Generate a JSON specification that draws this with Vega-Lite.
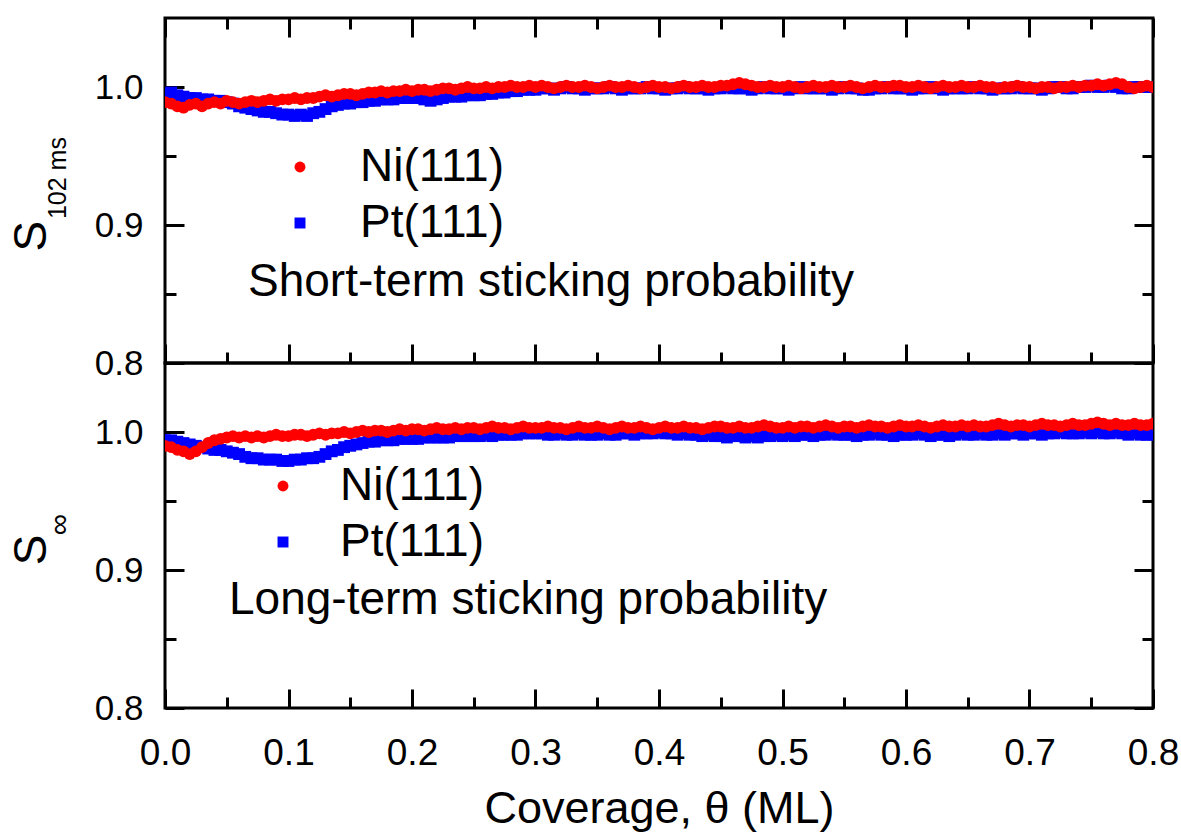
{
  "$schema": "https://vega.github.io/schema/vega-lite/v6.json",
  "padding": {"left": 7, "top": 15, "right": 5, "bottom": 5},
  "background": "white",
  "spacing": 0,
  "bounds": "flush",
  "config": {
    "font": "Liberation Sans",
    "view": {"stroke": "#000000", "strokeWidth": 3},
    "axis": {"grid": false, "domain": false, "labelFlush": false, "labelOverlap": false, "tickColor": "#000000", "tickWidth": 3, "labelColor": "#000000", "titleColor": "#000000", "labelFont": "Liberation Sans", "titleFont": "Liberation Sans"}
  },
  "datasets": {
    "short": [
      {"s":"Pt(111)","x":0,"y":0.995},{"s":"Pt(111)","x":0.005,"y":0.996},{"s":"Pt(111)","x":0.01,"y":0.994},{"s":"Pt(111)","x":0.015,"y":0.993},{"s":"Pt(111)","x":0.02,"y":0.992},{"s":"Pt(111)","x":0.025,"y":0.992},{"s":"Pt(111)","x":0.03,"y":0.991},{"s":"Pt(111)","x":0.035,"y":0.991},{"s":"Pt(111)","x":0.04,"y":0.99},{"s":"Pt(111)","x":0.045,"y":0.99},
      {"s":"Pt(111)","x":0.05,"y":0.989},{"s":"Pt(111)","x":0.055,"y":0.988},{"s":"Pt(111)","x":0.06,"y":0.986},{"s":"Pt(111)","x":0.065,"y":0.985},{"s":"Pt(111)","x":0.07,"y":0.984},{"s":"Pt(111)","x":0.075,"y":0.983},{"s":"Pt(111)","x":0.08,"y":0.982},{"s":"Pt(111)","x":0.085,"y":0.982},{"s":"Pt(111)","x":0.09,"y":0.981},{"s":"Pt(111)","x":0.095,"y":0.98},
      {"s":"Pt(111)","x":0.1,"y":0.98},{"s":"Pt(111)","x":0.105,"y":0.979},{"s":"Pt(111)","x":0.11,"y":0.98},{"s":"Pt(111)","x":0.115,"y":0.979},{"s":"Pt(111)","x":0.12,"y":0.981},{"s":"Pt(111)","x":0.125,"y":0.982},{"s":"Pt(111)","x":0.13,"y":0.984},{"s":"Pt(111)","x":0.135,"y":0.986},{"s":"Pt(111)","x":0.14,"y":0.987},{"s":"Pt(111)","x":0.145,"y":0.988},
      {"s":"Pt(111)","x":0.15,"y":0.988},{"s":"Pt(111)","x":0.155,"y":0.989},{"s":"Pt(111)","x":0.16,"y":0.989},{"s":"Pt(111)","x":0.165,"y":0.99},{"s":"Pt(111)","x":0.17,"y":0.99},{"s":"Pt(111)","x":0.175,"y":0.991},{"s":"Pt(111)","x":0.18,"y":0.991},{"s":"Pt(111)","x":0.185,"y":0.991},{"s":"Pt(111)","x":0.19,"y":0.992},{"s":"Pt(111)","x":0.195,"y":0.992},
      {"s":"Pt(111)","x":0.2,"y":0.992},{"s":"Pt(111)","x":0.205,"y":0.992},{"s":"Pt(111)","x":0.21,"y":0.991},{"s":"Pt(111)","x":0.215,"y":0.99},{"s":"Pt(111)","x":0.22,"y":0.991},{"s":"Pt(111)","x":0.225,"y":0.992},{"s":"Pt(111)","x":0.23,"y":0.993},{"s":"Pt(111)","x":0.235,"y":0.993},{"s":"Pt(111)","x":0.24,"y":0.993},{"s":"Pt(111)","x":0.245,"y":0.994},
      {"s":"Pt(111)","x":0.25,"y":0.994},{"s":"Pt(111)","x":0.255,"y":0.994},{"s":"Pt(111)","x":0.26,"y":0.995},{"s":"Pt(111)","x":0.265,"y":0.995},{"s":"Pt(111)","x":0.27,"y":0.996},{"s":"Pt(111)","x":0.275,"y":0.996},{"s":"Pt(111)","x":0.28,"y":0.997},{"s":"Pt(111)","x":0.285,"y":0.997},{"s":"Pt(111)","x":0.29,"y":0.998},{"s":"Pt(111)","x":0.295,"y":0.998},
      {"s":"Pt(111)","x":0.3,"y":0.998},{"s":"Pt(111)","x":0.305,"y":0.999},{"s":"Pt(111)","x":0.31,"y":0.999},{"s":"Pt(111)","x":0.315,"y":0.998},{"s":"Pt(111)","x":0.32,"y":0.999},{"s":"Pt(111)","x":0.325,"y":1.0},{"s":"Pt(111)","x":0.33,"y":0.999},{"s":"Pt(111)","x":0.335,"y":0.999},{"s":"Pt(111)","x":0.34,"y":0.998},{"s":"Pt(111)","x":0.345,"y":0.999},
      {"s":"Pt(111)","x":0.35,"y":0.999},{"s":"Pt(111)","x":0.355,"y":0.999},{"s":"Pt(111)","x":0.36,"y":1.0},{"s":"Pt(111)","x":0.365,"y":0.999},{"s":"Pt(111)","x":0.37,"y":0.998},{"s":"Pt(111)","x":0.375,"y":0.999},{"s":"Pt(111)","x":0.38,"y":0.999},{"s":"Pt(111)","x":0.385,"y":0.999},{"s":"Pt(111)","x":0.39,"y":1.0},{"s":"Pt(111)","x":0.395,"y":0.999},
      {"s":"Pt(111)","x":0.4,"y":0.999},{"s":"Pt(111)","x":0.405,"y":0.998},{"s":"Pt(111)","x":0.41,"y":0.999},{"s":"Pt(111)","x":0.415,"y":0.999},{"s":"Pt(111)","x":0.42,"y":1.0},{"s":"Pt(111)","x":0.425,"y":0.999},{"s":"Pt(111)","x":0.43,"y":0.999},{"s":"Pt(111)","x":0.435,"y":0.999},{"s":"Pt(111)","x":0.44,"y":0.998},{"s":"Pt(111)","x":0.445,"y":0.999},
      {"s":"Pt(111)","x":0.45,"y":0.999},{"s":"Pt(111)","x":0.455,"y":1.0},{"s":"Pt(111)","x":0.46,"y":0.999},{"s":"Pt(111)","x":0.465,"y":0.999},{"s":"Pt(111)","x":0.47,"y":0.999},{"s":"Pt(111)","x":0.475,"y":0.998},{"s":"Pt(111)","x":0.48,"y":0.999},{"s":"Pt(111)","x":0.485,"y":1.0},{"s":"Pt(111)","x":0.49,"y":0.999},{"s":"Pt(111)","x":0.495,"y":0.999},
      {"s":"Pt(111)","x":0.5,"y":0.999},{"s":"Pt(111)","x":0.505,"y":0.998},{"s":"Pt(111)","x":0.51,"y":0.999},{"s":"Pt(111)","x":0.515,"y":1.0},{"s":"Pt(111)","x":0.52,"y":0.999},{"s":"Pt(111)","x":0.525,"y":0.999},{"s":"Pt(111)","x":0.53,"y":0.999},{"s":"Pt(111)","x":0.535,"y":0.999},{"s":"Pt(111)","x":0.54,"y":0.998},{"s":"Pt(111)","x":0.545,"y":0.999},
      {"s":"Pt(111)","x":0.55,"y":1.0},{"s":"Pt(111)","x":0.555,"y":0.999},{"s":"Pt(111)","x":0.56,"y":0.999},{"s":"Pt(111)","x":0.565,"y":0.998},{"s":"Pt(111)","x":0.57,"y":0.998},{"s":"Pt(111)","x":0.575,"y":0.999},{"s":"Pt(111)","x":0.58,"y":0.999},{"s":"Pt(111)","x":0.585,"y":1.0},{"s":"Pt(111)","x":0.59,"y":0.999},{"s":"Pt(111)","x":0.595,"y":0.999},
      {"s":"Pt(111)","x":0.6,"y":0.999},{"s":"Pt(111)","x":0.605,"y":0.998},{"s":"Pt(111)","x":0.61,"y":0.999},{"s":"Pt(111)","x":0.615,"y":0.999},{"s":"Pt(111)","x":0.62,"y":1.0},{"s":"Pt(111)","x":0.625,"y":0.999},{"s":"Pt(111)","x":0.63,"y":0.998},{"s":"Pt(111)","x":0.635,"y":0.999},{"s":"Pt(111)","x":0.64,"y":0.999},{"s":"Pt(111)","x":0.645,"y":0.999},
      {"s":"Pt(111)","x":0.65,"y":0.999},{"s":"Pt(111)","x":0.655,"y":1.0},{"s":"Pt(111)","x":0.66,"y":0.999},{"s":"Pt(111)","x":0.665,"y":0.999},{"s":"Pt(111)","x":0.67,"y":0.998},{"s":"Pt(111)","x":0.675,"y":0.999},{"s":"Pt(111)","x":0.68,"y":0.999},{"s":"Pt(111)","x":0.685,"y":0.999},{"s":"Pt(111)","x":0.69,"y":1.0},{"s":"Pt(111)","x":0.695,"y":0.999},
      {"s":"Pt(111)","x":0.7,"y":0.999},{"s":"Pt(111)","x":0.705,"y":0.999},{"s":"Pt(111)","x":0.71,"y":0.998},{"s":"Pt(111)","x":0.715,"y":0.999},{"s":"Pt(111)","x":0.72,"y":1.0},{"s":"Pt(111)","x":0.725,"y":1.0},{"s":"Pt(111)","x":0.73,"y":0.999},{"s":"Pt(111)","x":0.735,"y":0.999},{"s":"Pt(111)","x":0.74,"y":1.0},{"s":"Pt(111)","x":0.745,"y":1.0},
      {"s":"Pt(111)","x":0.75,"y":1.001},{"s":"Pt(111)","x":0.755,"y":1.0},{"s":"Pt(111)","x":0.76,"y":1.0},{"s":"Pt(111)","x":0.765,"y":1.001},{"s":"Pt(111)","x":0.77,"y":1.0},{"s":"Pt(111)","x":0.775,"y":0.999},{"s":"Pt(111)","x":0.78,"y":0.999},{"s":"Pt(111)","x":0.785,"y":1.0},{"s":"Pt(111)","x":0.79,"y":1.0},{"s":"Pt(111)","x":0.795,"y":1.0},
      {"s":"Pt(111)","x":0.8,"y":1.0},
      {"s":"Ni(111)","x":0,"y":0.989},{"s":"Ni(111)","x":0.005,"y":0.988},{"s":"Ni(111)","x":0.01,"y":0.986},{"s":"Ni(111)","x":0.015,"y":0.985},{"s":"Ni(111)","x":0.02,"y":0.987},{"s":"Ni(111)","x":0.025,"y":0.988},{"s":"Ni(111)","x":0.03,"y":0.986},{"s":"Ni(111)","x":0.035,"y":0.988},{"s":"Ni(111)","x":0.04,"y":0.989},{"s":"Ni(111)","x":0.045,"y":0.988},
      {"s":"Ni(111)","x":0.05,"y":0.99},{"s":"Ni(111)","x":0.055,"y":0.989},{"s":"Ni(111)","x":0.06,"y":0.988},{"s":"Ni(111)","x":0.065,"y":0.989},{"s":"Ni(111)","x":0.07,"y":0.99},{"s":"Ni(111)","x":0.075,"y":0.989},{"s":"Ni(111)","x":0.08,"y":0.99},{"s":"Ni(111)","x":0.085,"y":0.991},{"s":"Ni(111)","x":0.09,"y":0.99},{"s":"Ni(111)","x":0.095,"y":0.991},
      {"s":"Ni(111)","x":0.1,"y":0.991},{"s":"Ni(111)","x":0.105,"y":0.992},{"s":"Ni(111)","x":0.11,"y":0.991},{"s":"Ni(111)","x":0.115,"y":0.992},{"s":"Ni(111)","x":0.12,"y":0.992},{"s":"Ni(111)","x":0.125,"y":0.993},{"s":"Ni(111)","x":0.13,"y":0.994},{"s":"Ni(111)","x":0.135,"y":0.993},{"s":"Ni(111)","x":0.14,"y":0.994},{"s":"Ni(111)","x":0.145,"y":0.995},
      {"s":"Ni(111)","x":0.15,"y":0.995},{"s":"Ni(111)","x":0.155,"y":0.994},{"s":"Ni(111)","x":0.16,"y":0.995},{"s":"Ni(111)","x":0.165,"y":0.996},{"s":"Ni(111)","x":0.17,"y":0.996},{"s":"Ni(111)","x":0.175,"y":0.997},{"s":"Ni(111)","x":0.18,"y":0.996},{"s":"Ni(111)","x":0.185,"y":0.997},{"s":"Ni(111)","x":0.19,"y":0.997},{"s":"Ni(111)","x":0.195,"y":0.998},
      {"s":"Ni(111)","x":0.2,"y":0.997},{"s":"Ni(111)","x":0.205,"y":0.998},{"s":"Ni(111)","x":0.21,"y":0.998},{"s":"Ni(111)","x":0.215,"y":0.997},{"s":"Ni(111)","x":0.22,"y":0.998},{"s":"Ni(111)","x":0.225,"y":0.999},{"s":"Ni(111)","x":0.23,"y":0.999},{"s":"Ni(111)","x":0.235,"y":0.998},{"s":"Ni(111)","x":0.24,"y":0.999},{"s":"Ni(111)","x":0.245,"y":1.0},
      {"s":"Ni(111)","x":0.25,"y":0.999},{"s":"Ni(111)","x":0.255,"y":0.999},{"s":"Ni(111)","x":0.26,"y":1.0},{"s":"Ni(111)","x":0.265,"y":0.999},{"s":"Ni(111)","x":0.27,"y":1.0},{"s":"Ni(111)","x":0.275,"y":1.0},{"s":"Ni(111)","x":0.28,"y":1.001},{"s":"Ni(111)","x":0.285,"y":1.0},{"s":"Ni(111)","x":0.29,"y":1.0},{"s":"Ni(111)","x":0.295,"y":1.001},
      {"s":"Ni(111)","x":0.3,"y":1.0},{"s":"Ni(111)","x":0.305,"y":1.001},{"s":"Ni(111)","x":0.31,"y":1.0},{"s":"Ni(111)","x":0.315,"y":0.999},{"s":"Ni(111)","x":0.32,"y":1.0},{"s":"Ni(111)","x":0.325,"y":1.001},{"s":"Ni(111)","x":0.33,"y":1.0},{"s":"Ni(111)","x":0.335,"y":1.0},{"s":"Ni(111)","x":0.34,"y":1.001},{"s":"Ni(111)","x":0.345,"y":1.0},
      {"s":"Ni(111)","x":0.35,"y":0.999},{"s":"Ni(111)","x":0.355,"y":1.0},{"s":"Ni(111)","x":0.36,"y":1.001},{"s":"Ni(111)","x":0.365,"y":1.0},{"s":"Ni(111)","x":0.37,"y":1.0},{"s":"Ni(111)","x":0.375,"y":1.001},{"s":"Ni(111)","x":0.38,"y":1.0},{"s":"Ni(111)","x":0.385,"y":0.999},{"s":"Ni(111)","x":0.39,"y":1.0},{"s":"Ni(111)","x":0.395,"y":1.001},
      {"s":"Ni(111)","x":0.4,"y":1.0},{"s":"Ni(111)","x":0.405,"y":1.0},{"s":"Ni(111)","x":0.41,"y":0.999},{"s":"Ni(111)","x":0.415,"y":1.0},{"s":"Ni(111)","x":0.42,"y":1.001},{"s":"Ni(111)","x":0.425,"y":1.0},{"s":"Ni(111)","x":0.43,"y":1.0},{"s":"Ni(111)","x":0.435,"y":1.001},{"s":"Ni(111)","x":0.44,"y":1.0},{"s":"Ni(111)","x":0.445,"y":1.0},
      {"s":"Ni(111)","x":0.45,"y":1.001},{"s":"Ni(111)","x":0.455,"y":1.001},{"s":"Ni(111)","x":0.46,"y":1.002},{"s":"Ni(111)","x":0.465,"y":1.003},{"s":"Ni(111)","x":0.47,"y":1.002},{"s":"Ni(111)","x":0.475,"y":1.001},{"s":"Ni(111)","x":0.48,"y":1.0},{"s":"Ni(111)","x":0.485,"y":1.0},{"s":"Ni(111)","x":0.49,"y":1.001},{"s":"Ni(111)","x":0.495,"y":1.0},
      {"s":"Ni(111)","x":0.5,"y":1.0},{"s":"Ni(111)","x":0.505,"y":1.001},{"s":"Ni(111)","x":0.51,"y":1.0},{"s":"Ni(111)","x":0.515,"y":0.999},{"s":"Ni(111)","x":0.52,"y":1.0},{"s":"Ni(111)","x":0.525,"y":1.001},{"s":"Ni(111)","x":0.53,"y":1.0},{"s":"Ni(111)","x":0.535,"y":1.0},{"s":"Ni(111)","x":0.54,"y":1.001},{"s":"Ni(111)","x":0.545,"y":1.0},
      {"s":"Ni(111)","x":0.55,"y":1.0},{"s":"Ni(111)","x":0.555,"y":1.001},{"s":"Ni(111)","x":0.56,"y":1.0},{"s":"Ni(111)","x":0.565,"y":0.999},{"s":"Ni(111)","x":0.57,"y":1.0},{"s":"Ni(111)","x":0.575,"y":1.001},{"s":"Ni(111)","x":0.58,"y":1.0},{"s":"Ni(111)","x":0.585,"y":1.0},{"s":"Ni(111)","x":0.59,"y":1.001},{"s":"Ni(111)","x":0.595,"y":1.001},
      {"s":"Ni(111)","x":0.6,"y":1.0},{"s":"Ni(111)","x":0.605,"y":1.0},{"s":"Ni(111)","x":0.61,"y":1.001},{"s":"Ni(111)","x":0.615,"y":1.0},{"s":"Ni(111)","x":0.62,"y":0.999},{"s":"Ni(111)","x":0.625,"y":1.0},{"s":"Ni(111)","x":0.63,"y":1.001},{"s":"Ni(111)","x":0.635,"y":1.0},{"s":"Ni(111)","x":0.64,"y":1.0},{"s":"Ni(111)","x":0.645,"y":1.001},
      {"s":"Ni(111)","x":0.65,"y":1.0},{"s":"Ni(111)","x":0.655,"y":1.0},{"s":"Ni(111)","x":0.66,"y":1.001},{"s":"Ni(111)","x":0.665,"y":1.0},{"s":"Ni(111)","x":0.67,"y":1.0},{"s":"Ni(111)","x":0.675,"y":0.999},{"s":"Ni(111)","x":0.68,"y":1.0},{"s":"Ni(111)","x":0.685,"y":1.0},{"s":"Ni(111)","x":0.69,"y":1.001},{"s":"Ni(111)","x":0.695,"y":1.0},
      {"s":"Ni(111)","x":0.7,"y":1.0},{"s":"Ni(111)","x":0.705,"y":0.999},{"s":"Ni(111)","x":0.71,"y":1.0},{"s":"Ni(111)","x":0.715,"y":1.0},{"s":"Ni(111)","x":0.72,"y":0.999},{"s":"Ni(111)","x":0.725,"y":1.0},{"s":"Ni(111)","x":0.73,"y":1.0},{"s":"Ni(111)","x":0.735,"y":1.001},{"s":"Ni(111)","x":0.74,"y":1.0},{"s":"Ni(111)","x":0.745,"y":1.001},
      {"s":"Ni(111)","x":0.75,"y":1.001},{"s":"Ni(111)","x":0.755,"y":1.002},{"s":"Ni(111)","x":0.76,"y":1.001},{"s":"Ni(111)","x":0.765,"y":1.002},{"s":"Ni(111)","x":0.77,"y":1.003},{"s":"Ni(111)","x":0.775,"y":1.002},{"s":"Ni(111)","x":0.78,"y":1.0},{"s":"Ni(111)","x":0.785,"y":0.999},{"s":"Ni(111)","x":0.79,"y":1.0},{"s":"Ni(111)","x":0.795,"y":1.001},
      {"s":"Ni(111)","x":0.8,"y":1.0}
    ],
    "long": [
      {"s":"Pt(111)","x":0,"y":0.994},{"s":"Pt(111)","x":0.005,"y":0.994},{"s":"Pt(111)","x":0.01,"y":0.993},{"s":"Pt(111)","x":0.015,"y":0.992},{"s":"Pt(111)","x":0.02,"y":0.991},{"s":"Pt(111)","x":0.025,"y":0.99},{"s":"Pt(111)","x":0.03,"y":0.989},{"s":"Pt(111)","x":0.035,"y":0.988},{"s":"Pt(111)","x":0.04,"y":0.987},{"s":"Pt(111)","x":0.045,"y":0.987},
      {"s":"Pt(111)","x":0.05,"y":0.986},{"s":"Pt(111)","x":0.055,"y":0.985},{"s":"Pt(111)","x":0.06,"y":0.984},{"s":"Pt(111)","x":0.065,"y":0.982},{"s":"Pt(111)","x":0.07,"y":0.981},{"s":"Pt(111)","x":0.075,"y":0.981},{"s":"Pt(111)","x":0.08,"y":0.98},{"s":"Pt(111)","x":0.085,"y":0.98},{"s":"Pt(111)","x":0.09,"y":0.98},{"s":"Pt(111)","x":0.095,"y":0.979},
      {"s":"Pt(111)","x":0.1,"y":0.979},{"s":"Pt(111)","x":0.105,"y":0.98},{"s":"Pt(111)","x":0.11,"y":0.98},{"s":"Pt(111)","x":0.115,"y":0.981},{"s":"Pt(111)","x":0.12,"y":0.981},{"s":"Pt(111)","x":0.125,"y":0.982},{"s":"Pt(111)","x":0.13,"y":0.984},{"s":"Pt(111)","x":0.135,"y":0.986},{"s":"Pt(111)","x":0.14,"y":0.987},{"s":"Pt(111)","x":0.145,"y":0.989},
      {"s":"Pt(111)","x":0.15,"y":0.99},{"s":"Pt(111)","x":0.155,"y":0.991},{"s":"Pt(111)","x":0.16,"y":0.992},{"s":"Pt(111)","x":0.165,"y":0.993},{"s":"Pt(111)","x":0.17,"y":0.993},{"s":"Pt(111)","x":0.175,"y":0.994},{"s":"Pt(111)","x":0.18,"y":0.994},{"s":"Pt(111)","x":0.185,"y":0.994},{"s":"Pt(111)","x":0.19,"y":0.995},{"s":"Pt(111)","x":0.195,"y":0.995},
      {"s":"Pt(111)","x":0.2,"y":0.995},{"s":"Pt(111)","x":0.205,"y":0.995},{"s":"Pt(111)","x":0.21,"y":0.996},{"s":"Pt(111)","x":0.215,"y":0.996},{"s":"Pt(111)","x":0.22,"y":0.996},{"s":"Pt(111)","x":0.225,"y":0.996},{"s":"Pt(111)","x":0.23,"y":0.996},{"s":"Pt(111)","x":0.235,"y":0.997},{"s":"Pt(111)","x":0.24,"y":0.997},{"s":"Pt(111)","x":0.245,"y":0.997},
      {"s":"Pt(111)","x":0.25,"y":0.997},{"s":"Pt(111)","x":0.255,"y":0.997},{"s":"Pt(111)","x":0.26,"y":0.998},{"s":"Pt(111)","x":0.265,"y":0.997},{"s":"Pt(111)","x":0.27,"y":0.998},{"s":"Pt(111)","x":0.275,"y":0.998},{"s":"Pt(111)","x":0.28,"y":0.998},{"s":"Pt(111)","x":0.285,"y":0.998},{"s":"Pt(111)","x":0.29,"y":0.999},{"s":"Pt(111)","x":0.295,"y":0.999},
      {"s":"Pt(111)","x":0.3,"y":0.999},{"s":"Pt(111)","x":0.305,"y":0.999},{"s":"Pt(111)","x":0.31,"y":0.998},{"s":"Pt(111)","x":0.315,"y":0.998},{"s":"Pt(111)","x":0.32,"y":0.999},{"s":"Pt(111)","x":0.325,"y":0.998},{"s":"Pt(111)","x":0.33,"y":0.998},{"s":"Pt(111)","x":0.335,"y":0.999},{"s":"Pt(111)","x":0.34,"y":0.998},{"s":"Pt(111)","x":0.345,"y":0.998},
      {"s":"Pt(111)","x":0.35,"y":0.998},{"s":"Pt(111)","x":0.355,"y":0.999},{"s":"Pt(111)","x":0.36,"y":0.998},{"s":"Pt(111)","x":0.365,"y":0.998},{"s":"Pt(111)","x":0.37,"y":0.999},{"s":"Pt(111)","x":0.375,"y":0.999},{"s":"Pt(111)","x":0.38,"y":0.998},{"s":"Pt(111)","x":0.385,"y":0.999},{"s":"Pt(111)","x":0.39,"y":0.999},{"s":"Pt(111)","x":0.395,"y":0.999},
      {"s":"Pt(111)","x":0.4,"y":1.0},{"s":"Pt(111)","x":0.405,"y":0.999},{"s":"Pt(111)","x":0.41,"y":0.999},{"s":"Pt(111)","x":0.415,"y":0.998},{"s":"Pt(111)","x":0.42,"y":0.999},{"s":"Pt(111)","x":0.425,"y":0.998},{"s":"Pt(111)","x":0.43,"y":0.998},{"s":"Pt(111)","x":0.435,"y":0.997},{"s":"Pt(111)","x":0.44,"y":0.998},{"s":"Pt(111)","x":0.445,"y":0.997},
      {"s":"Pt(111)","x":0.45,"y":0.997},{"s":"Pt(111)","x":0.455,"y":0.996},{"s":"Pt(111)","x":0.46,"y":0.997},{"s":"Pt(111)","x":0.465,"y":0.997},{"s":"Pt(111)","x":0.47,"y":0.996},{"s":"Pt(111)","x":0.475,"y":0.997},{"s":"Pt(111)","x":0.48,"y":0.996},{"s":"Pt(111)","x":0.485,"y":0.997},{"s":"Pt(111)","x":0.49,"y":0.997},{"s":"Pt(111)","x":0.495,"y":0.998},
      {"s":"Pt(111)","x":0.5,"y":0.997},{"s":"Pt(111)","x":0.505,"y":0.998},{"s":"Pt(111)","x":0.51,"y":0.997},{"s":"Pt(111)","x":0.515,"y":0.998},{"s":"Pt(111)","x":0.52,"y":0.998},{"s":"Pt(111)","x":0.525,"y":0.997},{"s":"Pt(111)","x":0.53,"y":0.998},{"s":"Pt(111)","x":0.535,"y":0.998},{"s":"Pt(111)","x":0.54,"y":0.999},{"s":"Pt(111)","x":0.545,"y":0.998},
      {"s":"Pt(111)","x":0.55,"y":0.998},{"s":"Pt(111)","x":0.555,"y":0.998},{"s":"Pt(111)","x":0.56,"y":0.997},{"s":"Pt(111)","x":0.565,"y":0.998},{"s":"Pt(111)","x":0.57,"y":0.998},{"s":"Pt(111)","x":0.575,"y":0.999},{"s":"Pt(111)","x":0.58,"y":0.998},{"s":"Pt(111)","x":0.585,"y":0.998},{"s":"Pt(111)","x":0.59,"y":0.997},{"s":"Pt(111)","x":0.595,"y":0.998},
      {"s":"Pt(111)","x":0.6,"y":0.998},{"s":"Pt(111)","x":0.605,"y":0.998},{"s":"Pt(111)","x":0.61,"y":0.999},{"s":"Pt(111)","x":0.615,"y":0.998},{"s":"Pt(111)","x":0.62,"y":0.997},{"s":"Pt(111)","x":0.625,"y":0.998},{"s":"Pt(111)","x":0.63,"y":0.998},{"s":"Pt(111)","x":0.635,"y":0.997},{"s":"Pt(111)","x":0.64,"y":0.998},{"s":"Pt(111)","x":0.645,"y":0.999},
      {"s":"Pt(111)","x":0.65,"y":0.998},{"s":"Pt(111)","x":0.655,"y":0.998},{"s":"Pt(111)","x":0.66,"y":0.999},{"s":"Pt(111)","x":0.665,"y":0.998},{"s":"Pt(111)","x":0.67,"y":0.998},{"s":"Pt(111)","x":0.675,"y":0.999},{"s":"Pt(111)","x":0.68,"y":0.998},{"s":"Pt(111)","x":0.685,"y":0.999},{"s":"Pt(111)","x":0.69,"y":0.999},{"s":"Pt(111)","x":0.695,"y":0.998},
      {"s":"Pt(111)","x":0.7,"y":0.999},{"s":"Pt(111)","x":0.705,"y":0.999},{"s":"Pt(111)","x":0.71,"y":0.998},{"s":"Pt(111)","x":0.715,"y":0.999},{"s":"Pt(111)","x":0.72,"y":0.999},{"s":"Pt(111)","x":0.725,"y":1.0},{"s":"Pt(111)","x":0.73,"y":0.999},{"s":"Pt(111)","x":0.735,"y":0.999},{"s":"Pt(111)","x":0.74,"y":0.999},{"s":"Pt(111)","x":0.745,"y":1.0},
      {"s":"Pt(111)","x":0.75,"y":0.999},{"s":"Pt(111)","x":0.755,"y":1.0},{"s":"Pt(111)","x":0.76,"y":0.999},{"s":"Pt(111)","x":0.765,"y":0.999},{"s":"Pt(111)","x":0.77,"y":1.0},{"s":"Pt(111)","x":0.775,"y":0.999},{"s":"Pt(111)","x":0.78,"y":0.998},{"s":"Pt(111)","x":0.785,"y":0.999},{"s":"Pt(111)","x":0.79,"y":0.998},{"s":"Pt(111)","x":0.795,"y":0.998},
      {"s":"Pt(111)","x":0.8,"y":0.998},
      {"s":"Ni(111)","x":0,"y":0.99},{"s":"Ni(111)","x":0.005,"y":0.989},{"s":"Ni(111)","x":0.01,"y":0.987},{"s":"Ni(111)","x":0.015,"y":0.986},{"s":"Ni(111)","x":0.02,"y":0.984},{"s":"Ni(111)","x":0.025,"y":0.986},{"s":"Ni(111)","x":0.03,"y":0.989},{"s":"Ni(111)","x":0.035,"y":0.992},{"s":"Ni(111)","x":0.04,"y":0.994},{"s":"Ni(111)","x":0.045,"y":0.995},
      {"s":"Ni(111)","x":0.05,"y":0.996},{"s":"Ni(111)","x":0.055,"y":0.997},{"s":"Ni(111)","x":0.06,"y":0.996},{"s":"Ni(111)","x":0.065,"y":0.997},{"s":"Ni(111)","x":0.07,"y":0.996},{"s":"Ni(111)","x":0.075,"y":0.997},{"s":"Ni(111)","x":0.08,"y":0.996},{"s":"Ni(111)","x":0.085,"y":0.997},{"s":"Ni(111)","x":0.09,"y":0.998},{"s":"Ni(111)","x":0.095,"y":0.997},
      {"s":"Ni(111)","x":0.1,"y":0.997},{"s":"Ni(111)","x":0.105,"y":0.998},{"s":"Ni(111)","x":0.11,"y":0.998},{"s":"Ni(111)","x":0.115,"y":0.997},{"s":"Ni(111)","x":0.12,"y":0.998},{"s":"Ni(111)","x":0.125,"y":0.999},{"s":"Ni(111)","x":0.13,"y":0.998},{"s":"Ni(111)","x":0.135,"y":0.999},{"s":"Ni(111)","x":0.14,"y":0.999},{"s":"Ni(111)","x":0.145,"y":1.0},
      {"s":"Ni(111)","x":0.15,"y":0.999},{"s":"Ni(111)","x":0.155,"y":1.0},{"s":"Ni(111)","x":0.16,"y":1.001},{"s":"Ni(111)","x":0.165,"y":1.0},{"s":"Ni(111)","x":0.17,"y":1.001},{"s":"Ni(111)","x":0.175,"y":1.001},{"s":"Ni(111)","x":0.18,"y":1.0},{"s":"Ni(111)","x":0.185,"y":1.001},{"s":"Ni(111)","x":0.19,"y":1.002},{"s":"Ni(111)","x":0.195,"y":1.001},
      {"s":"Ni(111)","x":0.2,"y":1.002},{"s":"Ni(111)","x":0.205,"y":1.002},{"s":"Ni(111)","x":0.21,"y":1.001},{"s":"Ni(111)","x":0.215,"y":1.002},{"s":"Ni(111)","x":0.22,"y":1.003},{"s":"Ni(111)","x":0.225,"y":1.002},{"s":"Ni(111)","x":0.23,"y":1.002},{"s":"Ni(111)","x":0.235,"y":1.003},{"s":"Ni(111)","x":0.24,"y":1.002},{"s":"Ni(111)","x":0.245,"y":1.003},
      {"s":"Ni(111)","x":0.25,"y":1.003},{"s":"Ni(111)","x":0.255,"y":1.002},{"s":"Ni(111)","x":0.26,"y":1.003},{"s":"Ni(111)","x":0.265,"y":1.004},{"s":"Ni(111)","x":0.27,"y":1.003},{"s":"Ni(111)","x":0.275,"y":1.003},{"s":"Ni(111)","x":0.28,"y":1.002},{"s":"Ni(111)","x":0.285,"y":1.003},{"s":"Ni(111)","x":0.29,"y":1.004},{"s":"Ni(111)","x":0.295,"y":1.003},
      {"s":"Ni(111)","x":0.3,"y":1.003},{"s":"Ni(111)","x":0.305,"y":1.003},{"s":"Ni(111)","x":0.31,"y":1.004},{"s":"Ni(111)","x":0.315,"y":1.003},{"s":"Ni(111)","x":0.32,"y":1.003},{"s":"Ni(111)","x":0.325,"y":1.002},{"s":"Ni(111)","x":0.33,"y":1.003},{"s":"Ni(111)","x":0.335,"y":1.004},{"s":"Ni(111)","x":0.34,"y":1.003},{"s":"Ni(111)","x":0.345,"y":1.003},
      {"s":"Ni(111)","x":0.35,"y":1.004},{"s":"Ni(111)","x":0.355,"y":1.003},{"s":"Ni(111)","x":0.36,"y":1.002},{"s":"Ni(111)","x":0.365,"y":1.003},{"s":"Ni(111)","x":0.37,"y":1.004},{"s":"Ni(111)","x":0.375,"y":1.003},{"s":"Ni(111)","x":0.38,"y":1.003},{"s":"Ni(111)","x":0.385,"y":1.004},{"s":"Ni(111)","x":0.39,"y":1.003},{"s":"Ni(111)","x":0.395,"y":1.002},
      {"s":"Ni(111)","x":0.4,"y":1.003},{"s":"Ni(111)","x":0.405,"y":1.004},{"s":"Ni(111)","x":0.41,"y":1.003},{"s":"Ni(111)","x":0.415,"y":1.003},{"s":"Ni(111)","x":0.42,"y":1.004},{"s":"Ni(111)","x":0.425,"y":1.003},{"s":"Ni(111)","x":0.43,"y":1.003},{"s":"Ni(111)","x":0.435,"y":1.002},{"s":"Ni(111)","x":0.44,"y":1.003},{"s":"Ni(111)","x":0.445,"y":1.004},
      {"s":"Ni(111)","x":0.45,"y":1.004},{"s":"Ni(111)","x":0.455,"y":1.003},{"s":"Ni(111)","x":0.46,"y":1.003},{"s":"Ni(111)","x":0.465,"y":1.004},{"s":"Ni(111)","x":0.47,"y":1.003},{"s":"Ni(111)","x":0.475,"y":1.003},{"s":"Ni(111)","x":0.48,"y":1.004},{"s":"Ni(111)","x":0.485,"y":1.005},{"s":"Ni(111)","x":0.49,"y":1.004},{"s":"Ni(111)","x":0.495,"y":1.003},
      {"s":"Ni(111)","x":0.5,"y":1.003},{"s":"Ni(111)","x":0.505,"y":1.004},{"s":"Ni(111)","x":0.51,"y":1.003},{"s":"Ni(111)","x":0.515,"y":1.004},{"s":"Ni(111)","x":0.52,"y":1.004},{"s":"Ni(111)","x":0.525,"y":1.003},{"s":"Ni(111)","x":0.53,"y":1.004},{"s":"Ni(111)","x":0.535,"y":1.005},{"s":"Ni(111)","x":0.54,"y":1.004},{"s":"Ni(111)","x":0.545,"y":1.003},
      {"s":"Ni(111)","x":0.55,"y":1.004},{"s":"Ni(111)","x":0.555,"y":1.004},{"s":"Ni(111)","x":0.56,"y":1.003},{"s":"Ni(111)","x":0.565,"y":1.004},{"s":"Ni(111)","x":0.57,"y":1.005},{"s":"Ni(111)","x":0.575,"y":1.004},{"s":"Ni(111)","x":0.58,"y":1.004},{"s":"Ni(111)","x":0.585,"y":1.003},{"s":"Ni(111)","x":0.59,"y":1.004},{"s":"Ni(111)","x":0.595,"y":1.005},
      {"s":"Ni(111)","x":0.6,"y":1.004},{"s":"Ni(111)","x":0.605,"y":1.004},{"s":"Ni(111)","x":0.61,"y":1.005},{"s":"Ni(111)","x":0.615,"y":1.004},{"s":"Ni(111)","x":0.62,"y":1.003},{"s":"Ni(111)","x":0.625,"y":1.004},{"s":"Ni(111)","x":0.63,"y":1.005},{"s":"Ni(111)","x":0.635,"y":1.004},{"s":"Ni(111)","x":0.64,"y":1.004},{"s":"Ni(111)","x":0.645,"y":1.005},
      {"s":"Ni(111)","x":0.65,"y":1.004},{"s":"Ni(111)","x":0.655,"y":1.005},{"s":"Ni(111)","x":0.66,"y":1.004},{"s":"Ni(111)","x":0.665,"y":1.004},{"s":"Ni(111)","x":0.67,"y":1.005},{"s":"Ni(111)","x":0.675,"y":1.006},{"s":"Ni(111)","x":0.68,"y":1.005},{"s":"Ni(111)","x":0.685,"y":1.004},{"s":"Ni(111)","x":0.69,"y":1.005},{"s":"Ni(111)","x":0.695,"y":1.005},
      {"s":"Ni(111)","x":0.7,"y":1.004},{"s":"Ni(111)","x":0.705,"y":1.005},{"s":"Ni(111)","x":0.71,"y":1.006},{"s":"Ni(111)","x":0.715,"y":1.005},{"s":"Ni(111)","x":0.72,"y":1.005},{"s":"Ni(111)","x":0.725,"y":1.004},{"s":"Ni(111)","x":0.73,"y":1.005},{"s":"Ni(111)","x":0.735,"y":1.006},{"s":"Ni(111)","x":0.74,"y":1.005},{"s":"Ni(111)","x":0.745,"y":1.005},
      {"s":"Ni(111)","x":0.75,"y":1.006},{"s":"Ni(111)","x":0.755,"y":1.007},{"s":"Ni(111)","x":0.76,"y":1.006},{"s":"Ni(111)","x":0.765,"y":1.005},{"s":"Ni(111)","x":0.77,"y":1.006},{"s":"Ni(111)","x":0.775,"y":1.005},{"s":"Ni(111)","x":0.78,"y":1.005},{"s":"Ni(111)","x":0.785,"y":1.006},{"s":"Ni(111)","x":0.79,"y":1.005},{"s":"Ni(111)","x":0.795,"y":1.005},
      {"s":"Ni(111)","x":0.8,"y":1.006}
    ]
  },
  "vconcat": [
    {
      "width": 988,
      "height": 345,
      "data": {"name": "short"},
      "layer": [
        {
          "mark": {"type": "point", "opacity": 0},
          "encoding": {
            "x": {"field": "x", "type": "quantitative", "scale": {"domain": [0, 0.8], "nice": false, "zero": false}, "axis": {"orient": "bottom", "values": [0.05, 0.15, 0.25, 0.35, 0.45, 0.55, 0.65, 0.75], "labels": false, "tickSize": -11, "title": null}},
            "y": {"field": "y", "type": "quantitative", "scale": {"domain": [0.8, 1.05], "nice": false, "zero": false}, "axis": {"orient": "left", "values": [0.85, 0.95], "labels": false, "tickSize": -11, "title": null}}
          }
        },
        {
          "mark": {"type": "point", "opacity": 0},
          "encoding": {
            "x": {"field": "x", "type": "quantitative", "scale": {"domain": [0, 0.8], "nice": false, "zero": false}, "axis": {"orient": "top", "values": [0, 0.1, 0.2, 0.3, 0.4, 0.5, 0.6, 0.7, 0.8], "labels": false, "tickSize": -19, "title": null}},
            "y": {"field": "y", "type": "quantitative", "scale": {"domain": [0.8, 1.05], "nice": false, "zero": false}, "axis": {"orient": "right", "values": [0.8, 0.9, 1.0], "labels": false, "tickSize": -19, "title": null}}
          }
        },
        {
          "mark": {"type": "point", "opacity": 0},
          "encoding": {
            "x": {"field": "x", "type": "quantitative", "scale": {"domain": [0, 0.8], "nice": false, "zero": false}, "axis": {"orient": "top", "values": [0.05, 0.15, 0.25, 0.35, 0.45, 0.55, 0.65, 0.75], "labels": false, "tickSize": -11, "title": null}},
            "y": {"field": "y", "type": "quantitative", "scale": {"domain": [0.8, 1.05], "nice": false, "zero": false}, "axis": {"orient": "right", "values": [0.85, 0.95], "labels": false, "tickSize": -11, "title": null}}
          }
        },
        {
          "mark": {"type": "point", "filled": true, "size": 140, "opacity": 1, "clip": true},
          "encoding": {
            "x": {"field": "x", "type": "quantitative", "scale": {"domain": [0, 0.8], "nice": false, "zero": false}, "axis": {"orient": "bottom", "values": [0, 0.1, 0.2, 0.3, 0.4, 0.5, 0.6, 0.7, 0.8], "labels": false, "tickSize": -19, "title": null}},
            "y": {"field": "y", "type": "quantitative", "scale": {"domain": [0.8, 1.05], "nice": false, "zero": false}, "axis": {"orient": "left", "values": [0.8, 0.9, 1.0], "format": ".1f", "labelFontSize": 35, "labelPadding": 41, "tickSize": -19, "title": null}},
            "color": {"field": "s", "type": "nominal", "scale": {"domain": ["Ni(111)", "Pt(111)"], "range": ["#ff0000", "#0000ff"]}, "legend": {"orient": "none", "legendX": 83, "legendY": 126, "title": "Short-term sticking probability", "titleOrient": "bottom", "titleFontSize": 46, "titleFontWeight": "normal", "titleColor": "#000000", "titleLimit": 1000, "titlePadding": 14, "labelFontSize": 46, "labelColor": "#000000", "labelLimit": 1000, "symbolSize": 120, "symbolOffset": 29, "labelOffset": 37, "rowPadding": 10, "padding": 0, "symbolStrokeWidth": 0}},
            "shape": {"field": "s", "type": "nominal", "scale": {"domain": ["Ni(111)", "Pt(111)"], "range": ["circle", "square"]}, "legend": {"orient": "none", "legendX": 83, "legendY": 126, "title": "Short-term sticking probability", "titleOrient": "bottom", "titleFontSize": 46, "titleFontWeight": "normal", "titleColor": "#000000", "titleLimit": 1000, "titlePadding": 14, "labelFontSize": 46, "labelColor": "#000000", "labelLimit": 1000, "symbolSize": 120, "symbolOffset": 29, "labelOffset": 37, "rowPadding": 10, "padding": 0, "symbolStrokeWidth": 0}}
          }
        },
        {
          "data": {"values": [{}]},
          "mark": {"type": "text", "angle": 270, "align": "center", "baseline": "middle", "fontSize": 46, "color": "#000000"},
          "encoding": {
            "x": {"datum": -0.108, "type": "quantitative", "scale": {"domain": [0, 0.8], "nice": false, "zero": false}, "axis": null},
            "y": {"datum": 0.892, "type": "quantitative", "scale": {"domain": [0.8, 1.05], "nice": false, "zero": false}, "axis": null},
            "text": {"value": "S"}
          }
        },
        {
          "data": {"values": [{}]},
          "mark": {"type": "text", "angle": 270, "align": "center", "baseline": "middle", "fontSize": 25, "color": "#000000"},
          "encoding": {
            "x": {"datum": -0.087, "type": "quantitative", "scale": {"domain": [0, 0.8], "nice": false, "zero": false}, "axis": null},
            "y": {"datum": 0.934, "type": "quantitative", "scale": {"domain": [0.8, 1.05], "nice": false, "zero": false}, "axis": null},
            "text": {"value": "102 ms"}
          }
        }
      ],
      "resolve": {"axis": {"x": "independent", "y": "independent"}}
    },
    {
      "width": 988,
      "height": 345,
      "data": {"name": "long"},
      "layer": [
        {
          "mark": {"type": "point", "opacity": 0},
          "encoding": {
            "x": {"field": "x", "type": "quantitative", "scale": {"domain": [0, 0.8], "nice": false, "zero": false}, "axis": {"orient": "bottom", "values": [0.05, 0.15, 0.25, 0.35, 0.45, 0.55, 0.65, 0.75], "labels": false, "tickSize": -11, "title": null}},
            "y": {"field": "y", "type": "quantitative", "scale": {"domain": [0.8, 1.05], "nice": false, "zero": false}, "axis": {"orient": "left", "values": [0.85, 0.95], "labels": false, "tickSize": -11, "title": null}}
          }
        },
        {
          "mark": {"type": "point", "opacity": 0},
          "encoding": {
            "x": {"field": "x", "type": "quantitative", "scale": {"domain": [0, 0.8], "nice": false, "zero": false}, "axis": null},
            "y": {"field": "y", "type": "quantitative", "scale": {"domain": [0.8, 1.05], "nice": false, "zero": false}, "axis": {"orient": "right", "values": [0.8, 0.9, 1.0], "labels": false, "tickSize": -19, "title": null}}
          }
        },
        {
          "mark": {"type": "point", "opacity": 0},
          "encoding": {
            "x": {"field": "x", "type": "quantitative", "scale": {"domain": [0, 0.8], "nice": false, "zero": false}, "axis": null},
            "y": {"field": "y", "type": "quantitative", "scale": {"domain": [0.8, 1.05], "nice": false, "zero": false}, "axis": {"orient": "right", "values": [0.85, 0.95], "labels": false, "tickSize": -11, "title": null}}
          }
        },
        {
          "mark": {"type": "point", "filled": true, "size": 140, "opacity": 1, "clip": true},
          "encoding": {
            "x": {"field": "x", "type": "quantitative", "scale": {"domain": [0, 0.8], "nice": false, "zero": false}, "axis": {"orient": "bottom", "values": [0, 0.1, 0.2, 0.3, 0.4, 0.5, 0.6, 0.7, 0.8], "format": ".1f", "labelFontSize": 37, "labelPadding": 46, "tickSize": -19, "title": "Coverage, θ (ML)", "titleFontSize": 45, "titleFontWeight": "normal", "titlePadding": 15}},
            "y": {"field": "y", "type": "quantitative", "scale": {"domain": [0.8, 1.05], "nice": false, "zero": false}, "axis": {"orient": "left", "values": [0.8, 0.9, 1.0], "format": ".1f", "labelFontSize": 35, "labelPadding": 41, "tickSize": -19, "title": null}},
            "color": {"field": "s", "type": "nominal", "scale": {"domain": ["Ni(111)", "Pt(111)"], "range": ["#ff0000", "#0000ff"]}, "legend": {"orient": "none", "legendX": 64, "legendY": 100, "title": "Long-term sticking probability", "titleOrient": "bottom", "titleFontSize": 46, "titleFontWeight": "normal", "titleColor": "#000000", "titleLimit": 1000, "titlePadding": 13, "labelFontSize": 46, "labelColor": "#000000", "labelLimit": 1000, "symbolSize": 120, "symbolOffset": 31, "labelOffset": 34, "rowPadding": 10, "padding": 0, "symbolStrokeWidth": 0}},
            "shape": {"field": "s", "type": "nominal", "scale": {"domain": ["Ni(111)", "Pt(111)"], "range": ["circle", "square"]}, "legend": {"orient": "none", "legendX": 64, "legendY": 100, "title": "Long-term sticking probability", "titleOrient": "bottom", "titleFontSize": 46, "titleFontWeight": "normal", "titleColor": "#000000", "titleLimit": 1000, "titlePadding": 13, "labelFontSize": 46, "labelColor": "#000000", "labelLimit": 1000, "symbolSize": 120, "symbolOffset": 31, "labelOffset": 34, "rowPadding": 10, "padding": 0, "symbolStrokeWidth": 0}}
          }
        },
        {
          "data": {"values": [{}]},
          "mark": {"type": "text", "angle": 270, "align": "center", "baseline": "middle", "fontSize": 46, "color": "#000000"},
          "encoding": {
            "x": {"datum": -0.108, "type": "quantitative", "scale": {"domain": [0, 0.8], "nice": false, "zero": false}, "axis": null},
            "y": {"datum": 0.9145, "type": "quantitative", "scale": {"domain": [0.8, 1.05], "nice": false, "zero": false}, "axis": null},
            "text": {"value": "S"}
          }
        },
        {
          "data": {"values": [{}]},
          "mark": {"type": "text", "angle": 270, "align": "center", "baseline": "middle", "fontSize": 30, "color": "#000000"},
          "encoding": {
            "x": {"datum": -0.085, "type": "quantitative", "scale": {"domain": [0, 0.8], "nice": false, "zero": false}, "axis": null},
            "y": {"datum": 0.933, "type": "quantitative", "scale": {"domain": [0.8, 1.05], "nice": false, "zero": false}, "axis": null},
            "text": {"value": "∞"}
          }
        }
      ],
      "resolve": {"axis": {"x": "independent", "y": "independent"}}
    }
  ],
  "resolve": {"scale": {"color": "independent", "shape": "independent"}, "legend": {"color": "independent", "shape": "independent"}}
}
